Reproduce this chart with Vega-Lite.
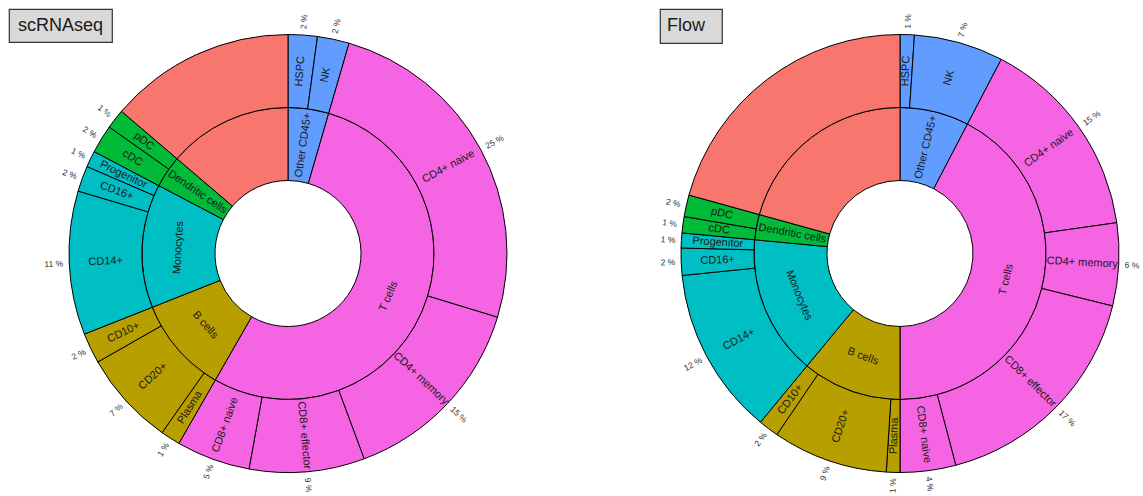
{
  "$schema": "https://vega.github.io/schema/vega-lite/v6.json",
  "background": "white",
  "padding": {"left": 8, "top": 8, "right": 0, "bottom": 0},
  "config": {"view": {"stroke": null}, "font": "Liberation Sans"},
  "datasets": {
    "cells": [
      {"sample": "scRNAseq", "group": "Other CD45+", "cell": "HSPC", "rank": 1, "share": 2.15, "pct": "2 %"},
      {"sample": "scRNAseq", "group": "Other CD45+", "cell": "NK", "rank": 2, "share": 2.35, "pct": "2 %"},
      {"sample": "scRNAseq", "group": "T cells", "cell": "CD4+ naive", "rank": 3, "share": 25.2, "pct": "25 %"},
      {"sample": "scRNAseq", "group": "T cells", "cell": "CD4+ memory", "rank": 4, "share": 14.65, "pct": "15 %"},
      {"sample": "scRNAseq", "group": "T cells", "cell": "CD8+ effector", "rank": 5, "share": 8.5, "pct": "9 %"},
      {"sample": "scRNAseq", "group": "T cells", "cell": "CD8+ naive", "rank": 6, "share": 5.45, "pct": "5 %"},
      {"sample": "scRNAseq", "group": "B cells", "cell": "Plasma", "rank": 7, "share": 1.45, "pct": "1 %"},
      {"sample": "scRNAseq", "group": "B cells", "cell": "CD20+", "rank": 8, "share": 7.0, "pct": "7 %"},
      {"sample": "scRNAseq", "group": "B cells", "cell": "CD10+", "rank": 9, "share": 2.25, "pct": "2 %"},
      {"sample": "scRNAseq", "group": "Monocytes", "cell": "CD14+", "rank": 10, "share": 10.6, "pct": "11 %"},
      {"sample": "scRNAseq", "group": "Monocytes", "cell": "CD16+", "rank": 11, "share": 1.9, "pct": "2 %"},
      {"sample": "scRNAseq", "group": "Monocytes", "cell": "Progenitor", "rank": 12, "share": 1.2, "pct": "1 %"},
      {"sample": "scRNAseq", "group": "Dendritic cells", "cell": "cDC", "rank": 13, "share": 2.1, "pct": "2 %"},
      {"sample": "scRNAseq", "group": "Dendritic cells", "cell": "pDC", "rank": 14, "share": 1.45, "pct": "1 %"},
      {"sample": "scRNAseq", "group": "Other", "cell": "", "rank": 15, "share": 13.75, "pct": ""},
      {"sample": "Flow", "group": "Other CD45+", "cell": "HSPC", "rank": 1, "share": 1.05, "pct": "1 %"},
      {"sample": "Flow", "group": "Other CD45+", "cell": "NK", "rank": 2, "share": 6.6, "pct": "7 %"},
      {"sample": "Flow", "group": "T cells", "cell": "CD4+ naive", "rank": 3, "share": 15.1, "pct": "15 %"},
      {"sample": "Flow", "group": "T cells", "cell": "CD4+ memory", "rank": 4, "share": 6.1, "pct": "6 %"},
      {"sample": "Flow", "group": "T cells", "cell": "CD8+ effector", "rank": 5, "share": 17.05, "pct": "17 %"},
      {"sample": "Flow", "group": "T cells", "cell": "CD8+ naive", "rank": 6, "share": 4.1, "pct": "4 %"},
      {"sample": "Flow", "group": "B cells", "cell": "Plasma", "rank": 7, "share": 1.0, "pct": "1 %"},
      {"sample": "Flow", "group": "B cells", "cell": "CD20+", "rank": 8, "share": 8.5, "pct": "9 %"},
      {"sample": "Flow", "group": "B cells", "cell": "CD10+", "rank": 9, "share": 1.5, "pct": "2 %"},
      {"sample": "Flow", "group": "Monocytes", "cell": "CD14+", "rank": 10, "share": 12.4, "pct": "12 %"},
      {"sample": "Flow", "group": "Monocytes", "cell": "CD16+", "rank": 11, "share": 2.0, "pct": "2 %"},
      {"sample": "Flow", "group": "Monocytes", "cell": "Progenitor", "rank": 12, "share": 1.1, "pct": "1 %"},
      {"sample": "Flow", "group": "Dendritic cells", "cell": "cDC", "rank": 13, "share": 1.2, "pct": "1 %"},
      {"sample": "Flow", "group": "Dendritic cells", "cell": "pDC", "rank": 14, "share": 1.6, "pct": "2 %"},
      {"sample": "Flow", "group": "Other", "cell": "", "rank": 15, "share": 20.7, "pct": ""}
    ]
  },
  "hconcat": [
    {
      "bounds": "flush",
      "spacing": 0,
      "vconcat": [
        {
          "width": 103, "height": 33,
          "view": {"fill": "#D9D9D9", "stroke": "#333333", "strokeWidth": 1.2},
          "data": {"values": [{"title": "scRNAseq"}]},
          "mark": {"type": "text", "fontSize": 18, "font": "Liberation Sans", "color": "#1a1a1a", "baseline": "middle", "align": "center"},
          "encoding": {"text": {"field": "title", "type": "nominal"}}
        },
        {
          "width": 558, "height": 423,
          "data": {"name": "cells"},
          "transform": [{"filter": {"field": "sample", "equal": "scRNAseq"}}],
          "layer": [
            {
              "transform": [{"aggregate": [{"op": "sum", "field": "share", "as": "share"}, {"op": "min", "field": "rank", "as": "rank"}], "groupby": ["group"]}],
              "mark": {"type": "arc", "radius": 146, "radius2": 73, "stroke": "black", "strokeWidth": 1},
              "encoding": {
                "theta": {"field": "share", "type": "quantitative", "stack": "normalize"},
                "order": {"field": "rank", "type": "quantitative"},
                "color": {"field": "group", "type": "nominal", "legend": null,
                  "scale": {"domain": ["Other", "B cells", "Dendritic cells", "Monocytes", "Other CD45+", "T cells"], "range": ["#F8766D", "#B79F00", "#00BA38", "#00BFC4", "#619CFF", "#F564E3"]}}
              }
            },
            {
              "mark": {"type": "arc", "radius": 219, "radius2": 146, "stroke": "black", "strokeWidth": 1},
              "encoding": {
                "theta": {"field": "share", "type": "quantitative", "stack": "normalize"},
                "order": {"field": "rank", "type": "quantitative"},
                "color": {"field": "group", "type": "nominal", "legend": null}
              }
            },
            {
              "transform": [{"aggregate": [{"op": "sum", "field": "share", "as": "share"}, {"op": "min", "field": "rank", "as": "rank"}], "groupby": ["group"]}],
              "mark": {"type": "text", "radius": 109.5, "fontSize": 11, "font": "Liberation Sans", "color": "#1a1a1a", "baseline": "middle", "align": "center",
                "angle": {"expr": "(datum.share_end - datum.share_start) < 0.1 ? ((datum.share_start + datum.share_end) * 180 < 180 ? (datum.share_start + datum.share_end) * 180 - 90 : (datum.share_start + datum.share_end) * 180 + 90) : (((datum.share_start + datum.share_end) * 180 > 90 && (datum.share_start + datum.share_end) * 180 < 270) ? (datum.share_start + datum.share_end) * 180 - 180 : (datum.share_start + datum.share_end) * 180)"}},
              "encoding": {
                "theta": {"field": "share", "type": "quantitative", "stack": "normalize"},
                "order": {"field": "rank", "type": "quantitative"},
                "text": {"condition": {"test": "datum.group === 'Other'", "value": ""}, "field": "group", "type": "nominal"}
              }
            },
            {
              "mark": {"type": "text", "radius": 182.5, "fontSize": 11, "font": "Liberation Sans", "color": "#1a1a1a", "baseline": "middle", "align": "center",
                "angle": {"expr": "(datum.share_start + datum.share_end) * 180 < 180 ? (datum.share_start + datum.share_end) * 180 - 90 : (datum.share_start + datum.share_end) * 180 + 90"}},
              "encoding": {
                "theta": {"field": "share", "type": "quantitative", "stack": "normalize"},
                "order": {"field": "rank", "type": "quantitative"},
                "text": {"field": "cell", "type": "nominal"}
              }
            },
            {
              "mark": {"type": "text", "radius": 225, "fontSize": 8.5, "font": "Liberation Sans", "color": "#333333", "baseline": "middle",
                "align": {"expr": "(datum.share_start + datum.share_end) * 180 < 180 ? 'left' : 'right'"},
                "angle": {"expr": "(datum.share_start + datum.share_end) * 180 < 180 ? (datum.share_start + datum.share_end) * 180 - 90 : (datum.share_start + datum.share_end) * 180 + 90"}},
              "encoding": {
                "theta": {"field": "share", "type": "quantitative", "stack": "normalize"},
                "order": {"field": "rank", "type": "quantitative"},
                "text": {"field": "pct", "type": "nominal"}
              }
            }
          ]
        }
      ]
    },
    {
      "bounds": "flush",
      "spacing": 0,
      "vconcat": [
        {
          "width": 62, "height": 34,
          "view": {"fill": "#D9D9D9", "stroke": "#333333", "strokeWidth": 1.2},
          "data": {"values": [{"title": "Flow"}]},
          "mark": {"type": "text", "fontSize": 18, "font": "Liberation Sans", "color": "#1a1a1a", "baseline": "middle", "align": "center", "dx": -5},
          "encoding": {"text": {"field": "title", "type": "nominal"}}
        },
        {
          "width": 480, "height": 421,
          "data": {"name": "cells"},
          "transform": [{"filter": {"field": "sample", "equal": "Flow"}}],
          "layer": [
            {
              "transform": [{"aggregate": [{"op": "sum", "field": "share", "as": "share"}, {"op": "min", "field": "rank", "as": "rank"}], "groupby": ["group"]}],
              "mark": {"type": "arc", "radius": 146, "radius2": 73, "stroke": "black", "strokeWidth": 1},
              "encoding": {
                "theta": {"field": "share", "type": "quantitative", "stack": "normalize"},
                "order": {"field": "rank", "type": "quantitative"},
                "color": {"field": "group", "type": "nominal", "legend": null,
                  "scale": {"domain": ["Other", "B cells", "Dendritic cells", "Monocytes", "Other CD45+", "T cells"], "range": ["#F8766D", "#B79F00", "#00BA38", "#00BFC4", "#619CFF", "#F564E3"]}}
              }
            },
            {
              "mark": {"type": "arc", "radius": 219, "radius2": 146, "stroke": "black", "strokeWidth": 1},
              "encoding": {
                "theta": {"field": "share", "type": "quantitative", "stack": "normalize"},
                "order": {"field": "rank", "type": "quantitative"},
                "color": {"field": "group", "type": "nominal", "legend": null}
              }
            },
            {
              "transform": [{"aggregate": [{"op": "sum", "field": "share", "as": "share"}, {"op": "min", "field": "rank", "as": "rank"}], "groupby": ["group"]}],
              "mark": {"type": "text", "radius": 109.5, "fontSize": 11, "font": "Liberation Sans", "color": "#1a1a1a", "baseline": "middle", "align": "center",
                "angle": {"expr": "(datum.share_end - datum.share_start) < 0.1 ? ((datum.share_start + datum.share_end) * 180 < 180 ? (datum.share_start + datum.share_end) * 180 - 90 : (datum.share_start + datum.share_end) * 180 + 90) : (((datum.share_start + datum.share_end) * 180 > 90 && (datum.share_start + datum.share_end) * 180 < 270) ? (datum.share_start + datum.share_end) * 180 - 180 : (datum.share_start + datum.share_end) * 180)"}},
              "encoding": {
                "theta": {"field": "share", "type": "quantitative", "stack": "normalize"},
                "order": {"field": "rank", "type": "quantitative"},
                "text": {"condition": {"test": "datum.group === 'Other'", "value": ""}, "field": "group", "type": "nominal"}
              }
            },
            {
              "mark": {"type": "text", "radius": 182.5, "fontSize": 11, "font": "Liberation Sans", "color": "#1a1a1a", "baseline": "middle", "align": "center",
                "angle": {"expr": "(datum.share_start + datum.share_end) * 180 < 180 ? (datum.share_start + datum.share_end) * 180 - 90 : (datum.share_start + datum.share_end) * 180 + 90"}},
              "encoding": {
                "theta": {"field": "share", "type": "quantitative", "stack": "normalize"},
                "order": {"field": "rank", "type": "quantitative"},
                "text": {"field": "cell", "type": "nominal"}
              }
            },
            {
              "mark": {"type": "text", "radius": 225, "fontSize": 8.5, "font": "Liberation Sans", "color": "#333333", "baseline": "middle",
                "align": {"expr": "(datum.share_start + datum.share_end) * 180 < 180 ? 'left' : 'right'"},
                "angle": {"expr": "(datum.share_start + datum.share_end) * 180 < 180 ? (datum.share_start + datum.share_end) * 180 - 90 : (datum.share_start + datum.share_end) * 180 + 90"}},
              "encoding": {
                "theta": {"field": "share", "type": "quantitative", "stack": "normalize"},
                "order": {"field": "rank", "type": "quantitative"},
                "text": {"field": "pct", "type": "nominal"}
              }
            }
          ]
        }
      ]
    }
  ],
  "spacing": 92
}
